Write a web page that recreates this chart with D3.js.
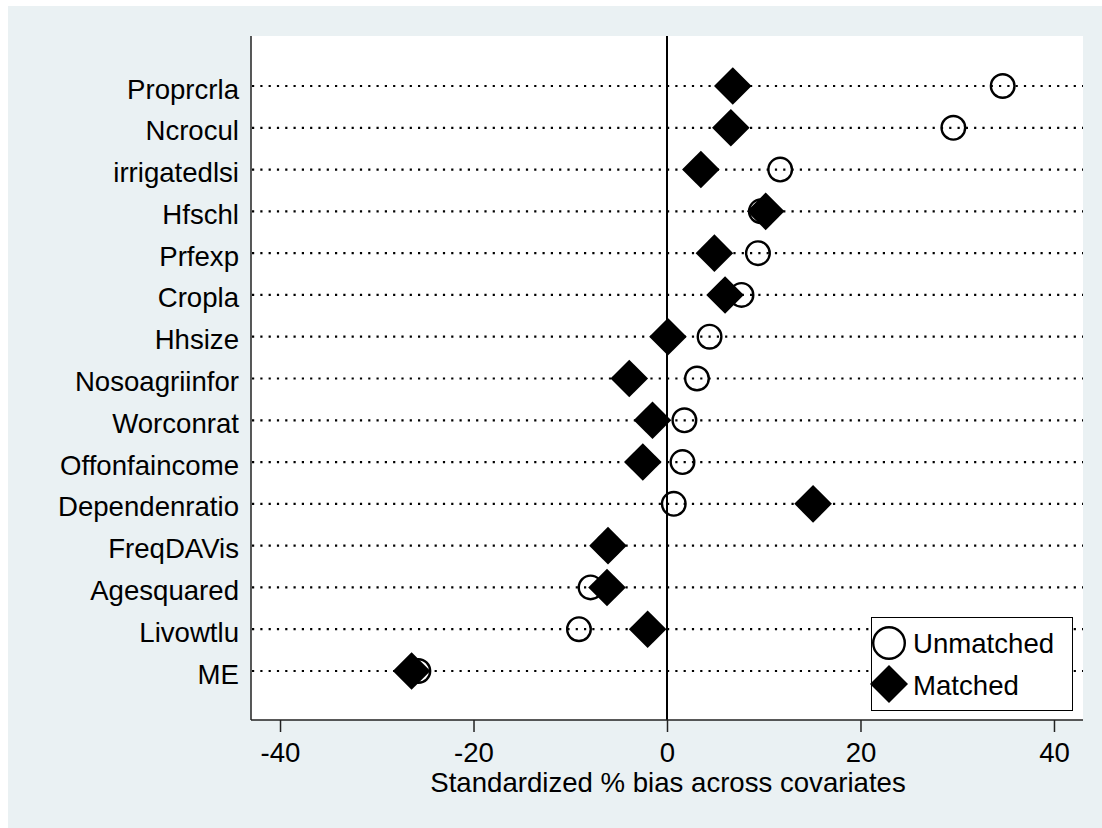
<!DOCTYPE html>
<html>
<head>
<meta charset="utf-8">
<script src="https://cdn.jsdelivr.net/npm/d3@7"></script>
<style>
  body { margin: 0; background: #fff; }
  text { font-family: "Liberation Sans", Arial, sans-serif; fill: #000; }
</style>
</head>
<body>
<script>
// covariates, top to bottom
var covariates = ["Proprcrla", "Ncrocul", "irrigatedlsi", "Hfschl", "Prfexp", "Cropla", "Hhsize",
  "Nosoagriinfor", "Worconrat", "Offonfaincome", "Dependenratio", "FreqDAVis", "Agesquared",
  "Livowtlu", "ME"];
var unmatched = [34.7, 29.6, 11.7, 9.7, 9.4, 7.7, 4.4, 3.1, 1.8, 1.6, 0.7, -6.1, -7.9, -9.1, -25.7];
var matched = [6.8, 6.6, 3.5, 10.2, 4.9, 6.0, 0.1, -3.9, -1.5, -2.5, 15.1, -6.1, -6.2, -2.0, -26.4];
var xTicks = [-40, -20, 0, 20, 40];
var legendLabels = ["Unmatched", "Matched"];

var W = 1102, H = 828;
var plotLeft = 251, plotRight = 1083, plotTop = 36, plotBottom = 720;
var fs = 27.6;

const svg = d3.select("body").append("svg")
  .attr("width", W)
  .attr("height", H);

// graph region
svg.append("rect")
  .attr("x", 8).attr("y", 6)
  .attr("width", W - 8).attr("height", H - 6)
  .attr("fill", "rgb(234,241,243)");

// plot region
svg.append("rect")
  .attr("x", plotLeft).attr("y", plotTop)
  .attr("width", plotRight - plotLeft).attr("height", plotBottom - plotTop)
  .attr("fill", "#fff");

const x = d3.scaleLinear().domain([-43, 43]).range([plotLeft, plotRight]);
const y = d3.scalePoint().domain(covariates).range([86, 671]);

// dotted row lines
svg.append("g")
  .selectAll("line")
  .data(covariates)
  .enter()
  .append("line")
  .attr("x1", plotLeft + 1)
  .attr("x2", plotRight)
  .attr("y1", d => y(d))
  .attr("y2", d => y(d))
  .attr("stroke", "#000")
  .attr("stroke-width", 2.2)
  .attr("stroke-dasharray", "2.2,6.1");

// row labels
svg.append("g")
  .selectAll("text")
  .data(covariates)
  .enter()
  .append("text")
  .attr("x", 239)
  .attr("y", d => y(d) + 12.5)
  .attr("text-anchor", "end")
  .style("font-size", fs + "px")
  .text(d => d);

// zero line
svg.append("line")
  .attr("x1", x(0)).attr("x2", x(0))
  .attr("y1", plotTop).attr("y2", plotBottom)
  .attr("stroke", "#000")
  .attr("stroke-width", 2);

// x axis
const xAxis = d3.axisBottom(x)
  .tickValues(xTicks)
  .tickFormat(d => String(d))
  .tickSize(12)
  .tickPadding(10)
  .tickSizeOuter(0);

const gx = svg.append("g")
  .attr("transform", "translate(0," + plotBottom + ")")
  .call(xAxis);
gx.select(".domain").attr("stroke", "#222").attr("stroke-width", 1.5)
  .attr("d", "M" + plotLeft + ",0H" + plotRight);
gx.selectAll(".tick line").attr("stroke", "#222").attr("stroke-width", 1.5);
gx.selectAll(".tick text")
  .style("font-size", fs + "px")
  .style("font-family", "Liberation Sans, Arial, sans-serif")
  .attr("fill", "#000");

// y axis line
svg.append("line")
  .attr("x1", plotLeft).attr("x2", plotLeft)
  .attr("y1", plotTop).attr("y2", plotBottom)
  .attr("stroke", "#222")
  .attr("stroke-width", 1.5);

svg.append("text")
  .attr("x", x(0) + 1)
  .attr("y", 792)
  .attr("text-anchor", "middle")
  .style("font-size", fs + "px")
  .text("Standardized % bias across covariates");

function diamond(cx, cy, h) {
  return "M" + cx + "," + (cy - h) + "L" + (cx + h) + "," + cy +
    "L" + cx + "," + (cy + h) + "L" + (cx - h) + "," + cy + "Z";
}

// unmatched circles
svg.append("g")
  .selectAll("circle")
  .data(unmatched)
  .enter()
  .append("circle")
  .attr("cx", d => x(d))
  .attr("cy", (d, i) => y(covariates[i]))
  .attr("r", 11.8)
  .attr("fill", "none")
  .attr("stroke", "#000")
  .attr("stroke-width", 2.4);

// matched diamonds
svg.append("g")
  .selectAll("path")
  .data(matched)
  .enter()
  .append("path")
  .attr("d", (d, i) => diamond(x(d), y(covariates[i]), 18.8))
  .attr("fill", "#000");

// legend
const lg = svg.append("g");
lg.append("rect")
  .attr("x", 871.5).attr("y", 617.5)
  .attr("width", 201).attr("height", 93)
  .attr("fill", "#fff")
  .attr("stroke", "#000")
  .attr("stroke-width", 1);
lg.append("circle")
  .attr("cx", 889).attr("cy", 643)
  .attr("r", 15.8)
  .attr("fill", "none")
  .attr("stroke", "#000")
  .attr("stroke-width", 2.4);
lg.append("path")
  .attr("d", diamond(889, 684, 19))
  .attr("fill", "#000");
lg.selectAll("text")
  .data(legendLabels)
  .enter()
  .append("text")
  .attr("x", 913)
  .attr("y", (d, i) => 653 + i * 42)
  .style("font-size", fs + "px")
  .text(d => d);
</script>
</body>
</html>
